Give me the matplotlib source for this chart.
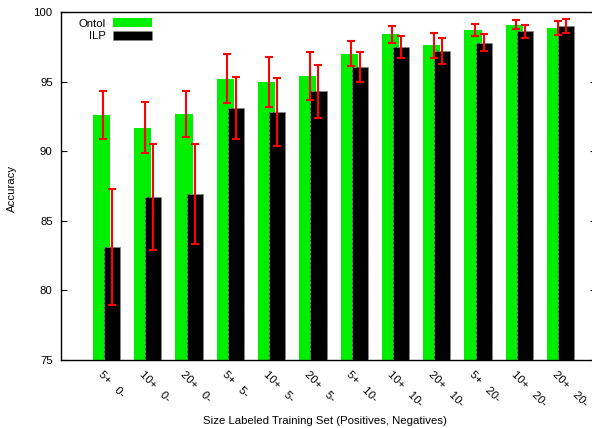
import matplotlib
matplotlib.use("Agg")
import matplotlib.pyplot as plt
import numpy as np

plt.rcParams['font.family'] = ['Liberation Sans', 'DejaVu Sans']

tick_labels = ["5+   0-", "10+   0-", "20+   0-", "5+   5-", "10+   5-", "20+   5-",
               "5+   10-", "10+   10-", "20+   10-", "5+   20-", "10+   20-", "20+   20-"]
ontol = [92.6, 91.7, 92.7, 95.2, 95.0, 95.4, 97.0, 98.4, 97.6, 98.7, 99.1, 98.85]
ontol_err = [1.75, 1.85, 1.65, 1.75, 1.8, 1.7, 0.9, 0.6, 0.9, 0.45, 0.35, 0.5]
ilp = [83.1, 86.7, 86.9, 93.1, 92.8, 94.3, 96.05, 97.5, 97.2, 97.8, 98.6, 99.0]
ilp_err = [4.15, 3.8, 3.6, 2.2, 2.45, 1.9, 1.05, 0.8, 0.95, 0.6, 0.45, 0.5]

FS = 8.2
W, H = 592, 428
fig = plt.figure(figsize=(W/100, H/100), dpi=100)
left, right, top, bottom = 61, 596, 12, 360
ax = fig.add_axes([left/W, 1-bottom/H, (right-left)/W, (bottom-top)/H])

x = np.arange(len(tick_labels))
ax.bar(x - 0.128, ontol, width=0.415, color='#00ee00', zorder=2, label='Ontol')
ax.bar(x + 0.128, ilp, width=0.39, color='black', edgecolor='#888888', linestyle='--',
       linewidth=0.6, zorder=3, label='ILP')
ax.errorbar(x - 0.08, ontol, yerr=ontol_err, fmt='none', ecolor='#ff0000', elinewidth=1.5,
            capsize=3, capthick=1.5, zorder=4)
ax.errorbar(x + 0.128, ilp, yerr=ilp_err, fmt='none', ecolor='#ff0000', elinewidth=1.5,
            capsize=3, capthick=1.5, zorder=4)

ax.set_ylim(75, 100)
ax.set_xlim(-1.108, 11.85)
ax.set_yticks([75, 80, 85, 90, 95, 100])
ax.tick_params(axis='y', direction='in', length=4, labelsize=FS, right=True, width=0.8, pad=6)
ax.set_xticks(x - 0.08)
ax.set_xticklabels(tick_labels, rotation=-45, ha='left', va='top', rotation_mode='anchor',
                   fontsize=FS)
ax.tick_params(axis='x', length=0, pad=7)
for s in ax.spines.values():
    s.set_linewidth(1.0)

fig.text(12/W, 1-188/H, 'Accuracy', fontsize=FS, rotation=90, ha='center', va='center')
fig.text(325/W, 1-421/H, 'Size Labeled Training Set (Positives, Negatives)', fontsize=FS,
         ha='center', va='center')

leg = ax.legend(loc='upper left', frameon=False, markerfirst=False, fontsize=FS,
                handlelength=3.4, handleheight=0.8, handletextpad=0.6, labelspacing=0.2,
                borderaxespad=0.0, bbox_to_anchor=(0.025, 0.995))
for t in leg.get_texts():
    t.set_ha('right')

fig.savefig('out.png', dpi=100)
